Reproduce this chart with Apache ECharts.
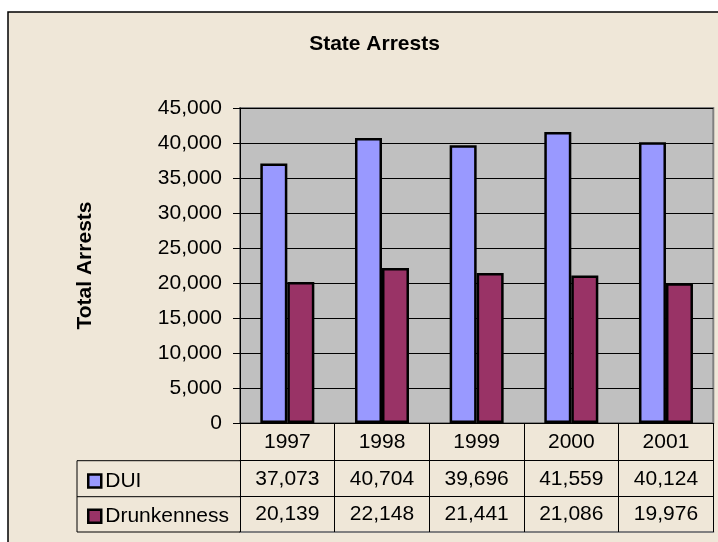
<!DOCTYPE html>
<html>
<head>
<meta charset="utf-8">
<script src="https://cdn.jsdelivr.net/npm/echarts@6/dist/echarts.min.js"></script>
<style>
html,body{margin:0;padding:0;background:#fff;}
#chart{width:718px;height:542px;}
</style>
</head>
<body>
<div id="chart"></div>
<script>
var categories = ['1997', '1998', '1999', '2000', '2001'];
var duiValues = [37073, 40704, 39696, 41559, 40124];
var drunkValues = [20139, 22148, 21441, 21086, 19976];
var seriesNames = ['DUI', 'Drunkenness'];
var yTicks = {min: 0, max: 45000, interval: 5000};

var FONT = '"Liberation Sans", Arial, sans-serif';
var BG = '#EFE7D8';
function fmt(v) { return v.toLocaleString('en-US'); }

var chart = echarts.init(document.getElementById('chart'), null, {renderer: 'canvas'});

var labelBase = {fontSize: 21, fontFamily: FONT, color: '#000', verticalAlign: 'middle', lineHeight: 21};

var option = {
  backgroundColor: '#fff',
  animation: false,
  title: {
    text: 'State Arrests',
    left: 369.5,
    textAlign: 'center',
    top: 29,
    textStyle: {fontSize: 21, fontWeight: 'bold', fontFamily: FONT, color: '#000'}
  },
  legend: {
    orient: 'vertical',
    left: 82,
    top: 465.5,
    itemWidth: 13,
    itemHeight: 13,
    itemGap: 14.2,
    icon: 'rect',
    data: seriesNames,
    itemStyle: {borderColor: '#000', borderWidth: 2.5},
    textStyle: {fontSize: 21, fontFamily: FONT, color: '#000', lineHeight: 21, padding: [0,0,0,-1]}
  },
  grid: {
    left: 240, top: 108, right: 4.7, bottom: 119,
    show: true, backgroundColor: '#C0C0C0', borderColor: '#808080', borderWidth: 2
  },
  yAxis: {
    type: 'value',
    min: yTicks.min, max: yTicks.max, interval: yTicks.interval,
    name: 'Total Arrests',
    nameLocation: 'middle',
    nameGap: 144,
    nameTextStyle: {fontSize: 21, fontWeight: 'bold', fontFamily: FONT, color: '#000'},
    axisLine: {show: true, lineStyle: {color: '#000', width: 1}},
    axisTick: {show: true, length: 7, lineStyle: {color: '#000'}},
    splitLine: {show: true, lineStyle: {color: '#000', width: 1}},
    axisLabel: {fontSize: 21, fontFamily: FONT, color: '#000', margin: 18, formatter: fmt}
  },
  xAxis: [
    {
      type: 'category', data: categories, position: 'bottom',
      axisLine: {show: true, lineStyle: {color: '#000', width: 1}},
      axisTick: {show: true, length: 109, interval: 0, alignWithLabel: false, lineStyle: {color: '#000', width: 1}},
      axisLabel: Object.assign({margin: 19, interval: 0}, labelBase)
    },
    {
      type: 'category', data: duiValues.map(fmt), position: 'bottom', offset: 37.7,
      axisLine: {show: true, lineStyle: {color: '#000', width: 1}},
      axisTick: {show: false},
      axisLabel: Object.assign({margin: 18.5, interval: 0}, labelBase)
    },
    {
      type: 'category', data: drunkValues.map(fmt), position: 'bottom', offset: 73.7,
      axisLine: {show: true, lineStyle: {color: '#000', width: 1}},
      axisTick: {show: false},
      axisLabel: Object.assign({margin: 18, interval: 0}, labelBase)
    },
    {
      type: 'category', data: categories, position: 'bottom', offset: 109,
      axisLine: {show: true, lineStyle: {color: '#808080', width: 2}},
      axisTick: {show: false},
      axisLabel: {show: false}
    }
  ],
  graphic: [
    {type: 'rect', z: -10, silent: true, shape: {x: 8, y: 12, width: 730, height: 560},
     style: {fill: BG, stroke: '#000', lineWidth: 1.5}},
    {type: 'polyline', z: 10, silent: true, shape: {points: [[240, 460.7], [77, 460.7], [77, 532], [240, 532]]},
     style: {fill: null, stroke: '#000', lineWidth: 1}},
    {type: 'line', z: 10, silent: true, shape: {x1: 77, y1: 496.7, x2: 240, y2: 496.7},
     style: {stroke: '#000', lineWidth: 1}}
  ],
  series: [
    {
      name: seriesNames[0], type: 'bar', data: duiValues, xAxisIndex: 0,
      barWidth: 27, barGap: '0%',
      itemStyle: {color: '#9999FF', borderColor: '#000', borderWidth: 2.5}
    },
    {
      name: seriesNames[1], type: 'bar', data: drunkValues, xAxisIndex: 0,
      barWidth: 27, barGap: '0%',
      itemStyle: {color: '#993366', borderColor: '#000', borderWidth: 2.5}
    }
  ]
};
chart.setOption(option);
</script>
</body>
</html>
